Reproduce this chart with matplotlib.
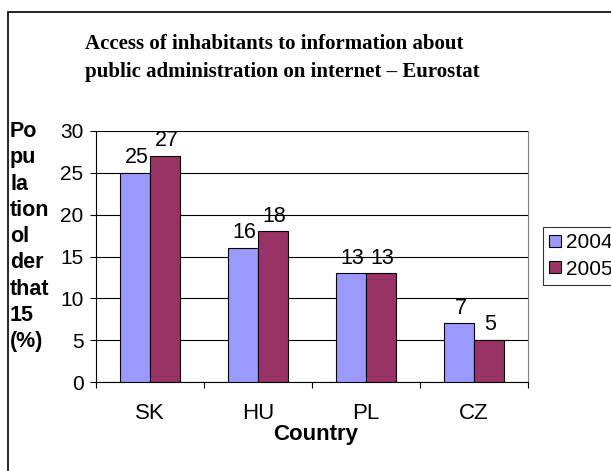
import matplotlib
matplotlib.use("Agg")
import matplotlib.pyplot as plt
from matplotlib.patches import Rectangle, Patch
import numpy as np

countries = ["SK", "HU", "PL", "CZ"]
years = ["2004", "2005"]
values_2004 = [25, 16, 13, 7]
values_2005 = [27, 18, 13, 5]
y_ticks = [0, 5, 10, 15, 20, 25, 30]
title_lines = ["Access of inhabitants to information about",
               "public administration on internet \u2013 Eurostat"]
ylabel = "Po\npu\nla\ntion\nol\nder\nthat\n15\n(%)"
xlabel = "Country"

colors = ["#9999FF", "#993366"]

W, H = 611, 471
fig = plt.figure(figsize=(W / 100, H / 100), dpi=100)
fig.patch.set_facecolor("white")

def fx(px):
    return px / W

def fy(py):
    return 1 - py / H

# outer chart border
fig.patches.append(Rectangle((fx(8), -0.2), 2.0, fy(12) + 0.2, transform=fig.transFigure,
                             fill=False, edgecolor="black", linewidth=1.2))

ax = fig.add_axes([fx(96), fy(382), fx(528) - fx(96), fy(131) - fy(382)])
x = np.arange(len(countries))
bw = 30 / 108
b1 = ax.bar(x - bw / 2, values_2004, width=bw, color=colors[0], edgecolor="black", linewidth=0.8, zorder=3)
b2 = ax.bar(x + bw / 2, values_2005, width=bw, color=colors[1], edgecolor="black", linewidth=0.8, zorder=3)

for bars, vals in ((b1, values_2004), (b2, values_2005)):
    for rect, v in zip(bars, vals):
        ax.annotate(str(v), (rect.get_x() + rect.get_width() / 2, v), xytext=(1, 7),
                    textcoords="offset points", ha="center", va="baseline",
                    fontsize=15.5, family="Liberation Sans")

ax.set_xlim(-0.5, len(countries) - 0.5)
ax.set_ylim(0, 30)
ax.set_yticks(y_ticks)
ax.set_yticklabels([str(t) for t in y_ticks], fontsize=15, family="Liberation Sans")
ax.yaxis.grid(True, color="black", linewidth=0.8, zorder=0)
ax.set_axisbelow(True)
ax.set_xticks(np.arange(len(countries) + 1) - 0.5, minor=False)
ax.set_xticklabels([])
ax.set_xticks(x, minor=True)
ax.set_xticklabels(countries, minor=True, fontsize=16, family="Liberation Sans")
ax.tick_params(axis="x", which="minor", length=0, pad=15)
ax.tick_params(axis="x", which="major", length=4, width=0.8, direction="out")
ax.tick_params(axis="y", length=4, width=0.8, direction="out", pad=5)

ax.spines["top"].set_visible(False)
ax.spines["right"].set_color("#808080")
ax.spines["left"].set_color("black")
ax.spines["bottom"].set_color("black")

for line, yb in zip(title_lines, (49, 77)):
    fig.text(fx(85), fy(yb), line, ha="left", va="baseline", fontsize=15,
             family="Liberation Serif", fontweight="bold")

fig.text(fx(10), fy(121), ylabel, ha="left", va="top", fontsize=15.5,
         family="Liberation Sans", fontweight="bold", linespacing=1.33)

fig.text(fx(316), fy(440), xlabel, ha="center", va="baseline", fontsize=16,
         family="Liberation Sans", fontweight="bold")

handles = [Patch(facecolor=c, edgecolor="black", linewidth=0.8) for c in colors]
leg = fig.legend(handles, years, loc="upper left", bbox_to_anchor=(fx(543), fy(227)),
                 prop={"family": "Liberation Sans", "size": 15}, frameon=True, fancybox=False,
                 handlelength=0.55, handleheight=0.55, handletextpad=0.25, borderpad=0.3,
                 labelspacing=0.35, borderaxespad=0)
leg.get_frame().set_edgecolor("black")
leg.get_frame().set_linewidth(0.8)

fig.savefig("out.png", dpi=100)
